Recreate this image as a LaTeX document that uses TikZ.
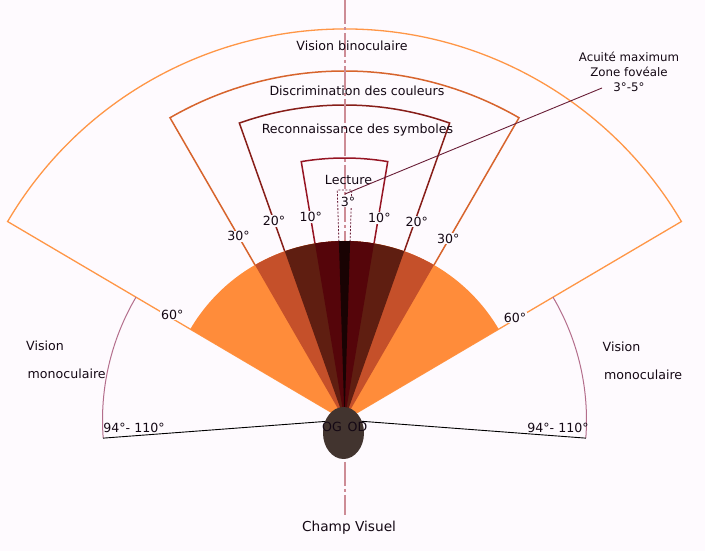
\documentclass[tikz,border=0pt]{standalone}
\usepackage{fontspec}
\setmainfont{DejaVu Sans}
\usepackage{tikz}
\usetikzlibrary{shapes.geometric,calc}
\definecolor{pagebg}{RGB}{254,250,254}
\definecolor{binocline}{RGB}{255,150,70}
\definecolor{discline}{RGB}{215,100,45}
\definecolor{recoline}{RGB}{135,30,25}
\definecolor{lectline}{RGB}{150,20,35}
\definecolor{monoline}{RGB}{180,110,140}
\definecolor{axiscol}{RGB}{205,140,150}
\definecolor{leadcol}{RGB}{105,30,55}
\definecolor{fanorange}{RGB}{255,140,58}
\definecolor{fanred}{RGB}{197,80,42}
\definecolor{fanbrown}{RGB}{95,30,17}
\definecolor{fandark}{RGB}{85,5,10}
\definecolor{fanblack}{RGB}{25,3,3}
\definecolor{headcol}{RGB}{66,52,47}
\definecolor{inkcol}{RGB}{20,8,20}

\begin{document}
\begin{tikzpicture}[x=1pt, y=1pt,
      lbl/.style={font=\fontsize{12.6}{15}\selectfont, text=inkcol, inner sep=1pt},
      deg/.style={lbl, fill=pagebg},
      zone/.style={draw=#1, line width=1.5pt, line join=miter},
      fan/.style={fill=#1},
      axisline/.style={axiscol, line width=2pt, dash pattern=on 24pt off 3pt on 3pt off 3pt},
    ]
    \path[fill=pagebg, use as bounding box] (0,0) rectangle (705,551);
    \coordinate (C) at (344.5,131);

    \draw[zone=binocline, line width=1.3pt] (C) -- ++(149.5:391)
      arc[start angle=149.5, end angle=30.5, radius=391] -- cycle;
    \draw[zone=discline] (C) -- ++(120:349)
      arc[start angle=120, end angle=60, radius=349] -- cycle;
    \draw[zone=recoline] (C) -- ++(109.5:315)
      arc[start angle=109.5, end angle=70.5, radius=315] -- cycle;
    \draw[zone=lectline] (C) -- ++(99.5:262)
      arc[start angle=99.5, end angle=80.5, radius=262] -- cycle;

    \draw[monoline, line width=1pt] (C) ++(149.5:242)
      arc[start angle=149.5, end angle=184.3, radius=242];
    \draw[monoline, line width=1pt] (C) ++(30.5:242)
      arc[start angle=30.5, end angle=-4.3, radius=242];
    \draw[black, line width=0.9pt] (C) -- ++(184.3:242);
    \draw[black, line width=0.9pt] (C) -- ++(-4.3:242);

    \draw[axisline] (344.5,551) -- (344.5,36);

    \draw[leadcol, line width=0.8pt, dash pattern=on 2pt off 1.5pt] (C) -- ++(91.8:230)
      arc[start angle=91.8, end angle=88.2, radius=230] -- cycle;

    \fill[fan=fanorange] (C) -- ++(149.5:179) arc[start angle=149.5, end angle=30.5, radius=179] -- cycle;
    \fill[fan=fanred]    (C) -- ++(120:179) arc[start angle=120, end angle=60, radius=179] -- cycle;
    \fill[fan=fanbrown]  (C) -- ++(109.5:179) arc[start angle=109.5, end angle=70.5, radius=179] -- cycle;
    \fill[fan=fandark]   (C) -- ++(99.5:179) arc[start angle=99.5, end angle=80.5, radius=179] -- cycle;
    \fill[fan=fanblack]  (C) -- ++(91.8:179) arc[start angle=91.8, end angle=88.2, radius=179] -- cycle;

    \node[ellipse, fill=headcol, minimum width=41pt, minimum height=52pt, inner sep=0pt]
      (head) at (343.5,118) {};

    \node[deg] (g30l) at ($(C)+(120:212)$) {30°};
    \node[deg] (g20l) at ($(C)+(109.5:211)$) {20°};
    \node[deg] (g10l) at ($(C)+(99.4:206)$) {10°};
    \node[deg] (g10r) at ($(C)+(80.2:205)$) {10°};
    \node[deg] (g20r) at ($(C)+(70:211)$) {20°};
    \node[deg] (g30r) at ($(C)+(60.2:209)$) {30°};
    \node[deg] (g60l) at ($(C)+(148.5:202)$) {60°};
    \node[deg] (g60r) at ($(C)+(31:199)$) {60°};
    \node[deg, inner sep=0.5pt] (g3) at (348,349) {3°};

    \node[lbl] (binoc) at (352,505) {Vision binoculaire};
    \node[lbl] (disc) at (357,460) {Discrimination des couleurs};
    \node[lbl] (reco) at (357.5,421) {Reconnaissance des symboles};
    \node[lbl] (lect) at (348.5,371) {Lecture};

    \node[lbl, font=\fontsize{11.8}{15}\selectfont, align=center] (acuite) at (629,479)
      {Acuité maximum\\Zone fovéale\\3°-5°};
    \coordinate (fovea) at (345,357);
    \coordinate (acuitetip) at (602,463);
    \draw[leadcol, line width=0.9pt] (fovea) -- (acuitetip);

    \node[lbl, anchor=west] (monotopl) at (25,205.5) {Vision};
    \node[lbl, anchor=west] (monobotl) at (26.5,177) {monoculaire};
    \node[lbl, anchor=west] (monotopr) at (601.5,204.5) {Vision};
    \node[lbl, anchor=west] (monobotr) at (603,176.5) {monoculaire};

    \node[lbl] (rangel) at (134,123.5) {94°- 110°};
    \node[lbl] (ranger) at (558,123) {94°- 110°};

    \node[lbl] (og) at (332,124.5) {OG};
    \node[lbl] (od) at (357.5,124.5) {OD};

    \node[lbl, font=\fontsize{13.7}{16}\selectfont] (title) at (349,23) {Champ Visuel};
  \end{tikzpicture}
\end{document}
